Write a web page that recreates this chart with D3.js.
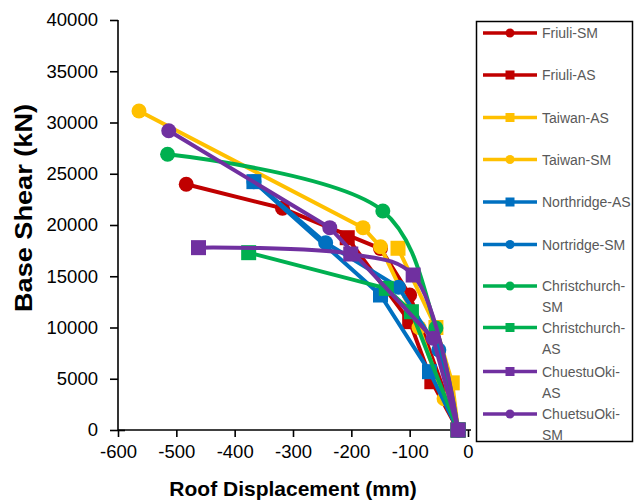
<!DOCTYPE html>
<html>
<head>
<meta charset="utf-8">
<script src="https://cdn.jsdelivr.net/npm/d3@7"></script>
<style>
  body { margin: 0; background: #fff; }
  text { font-family: "Liberation Sans", Arial, sans-serif; }
</style>
</head>
<body>
<div id="chart"></div>
<script>
// series values, [roof displacement (mm), base shear (kN)]
var friuliSM = [[-483, 23970], [-318, 21630], [-150, 17700], [-100, 13170], [-17, 0]]
var friuliAS = [[-207, 18760], [-100, 10570], [-62, 4710], [-17, 0]]
var taiwanAS = [[-120, 17730], [-55, 10000], [-27, 4600], [-17, 0]]
var taiwanSM = [[-564, 31120], [-180, 19740], [-150, 17880], [-84, 10000], [-41, 3050], [-17, 0]]
var northridgeAS = [[-367, 24230], [-150, 13170], [-66, 5690], [-17, 0]]
var nortridgeSM = [[-367, 24230], [-244, 18270], [-119, 13920], [-50, 7800], [-17, 0]]
var christchurchSM = [[-515, 26900], [-146, 21370], [-55, 9950], [-17, 0]]
var christchurchAS = [[-376, 17300], [-140, 13820], [-97, 11540], [-17, 0]]
var chuestuOkiAS = [[-462, 17790], [-201, 17170], [-94, 15120], [-17, 0]]
var chuetsuOkiSM = [[-513, 29200], [-237, 19740], [-60, 8950], [-17, 0]]

var seriesNames = ['Friuli-SM', 'Friuli-AS', 'Taiwan-AS', 'Taiwan-SM', 'Northridge-AS',
  'Nortridge-SM', 'Christchurch-SM', 'Christchurch-AS', 'ChuestuOki-AS', 'ChuetsuOki-SM']
var seriesValues = [friuliSM, friuliAS, taiwanAS, taiwanSM, northridgeAS,
  nortridgeSM, christchurchSM, christchurchAS, chuestuOkiAS, chuetsuOkiSM]
// legend text, broken the way the legend wraps it
var legendLines = [['Friuli-SM'], ['Friuli-AS'], ['Taiwan-AS'], ['Taiwan-SM'], ['Northridge-AS'],
  ['Nortridge-SM'], ['Christchurch-', 'SM'], ['Christchurch-', 'AS'], ['ChuestuOki-', 'AS'], ['ChuetsuOki-', 'SM']]

var xTicks = [-600, -500, -400, -300, -200, -100, 0]
var yTicks = [0, 5000, 10000, 15000, 20000, 25000, 30000, 35000, 40000]

// styles
var styles = {
  'Friuli-SM': { color: '#C00000', marker: 'circle' },
  'Friuli-AS': { color: '#C00000', marker: 'square' },
  'Taiwan-AS': { color: '#FFC000', marker: 'square' },
  'Taiwan-SM': { color: '#FFC000', marker: 'circle' },
  'Northridge-AS': { color: '#0070C0', marker: 'square' },
  'Nortridge-SM': { color: '#0070C0', marker: 'circle' },
  'Christchurch-SM': { color: '#00B050', marker: 'circle', smooth: true },
  'Christchurch-AS': { color: '#00B050', marker: 'square' },
  'ChuestuOki-AS': { color: '#7030A0', marker: 'square', smooth: true },
  'ChuetsuOki-SM': { color: '#7030A0', marker: 'circle' }
}

var width = 635, height = 500
var margin = { left: 118, top: 20, right: 167, bottom: 70 }

var svg = d3.select('#chart').append('svg')
  .attr('width', width)
  .attr('height', height)

var x = d3.scaleLinear().domain([-600, 0]).range([margin.left, width - margin.right])
var y = d3.scaleLinear().domain([0, 40000]).range([height - margin.bottom, margin.top])

var plain = function (d) { return String(d) }

// axes
var xAxis = d3.axisBottom(x).tickValues(xTicks).tickFormat(plain).tickSize(7).tickSizeOuter(0).tickPadding(8)
var yAxis = d3.axisLeft(y).tickValues(yTicks).tickFormat(plain).tickSize(8).tickSizeOuter(0).tickPadding(12)

var gx = svg.append('g').attr('transform', `translate(0,${y(0)})`).call(xAxis)
var gy = svg.append('g').attr('transform', `translate(${x(-600)},0)`).call(yAxis)
;[gx, gy].forEach(function (g) {
  g.selectAll('path, line').attr('stroke', '#000').attr('stroke-width', 1.6)
  g.selectAll('text').attr('font-size', 18.5).attr('fill', '#000')
    .style('font-family', '"Liberation Sans", Arial, sans-serif')
})
gx.select('.domain').attr('d', `M${x(-600)},0H${x(0) + 3}`)
gy.select('.domain').attr('d', `M0,${y(40000)}V${y(0) + 1}`)
// zero tick crosses the y axis
gy.selectAll('.tick').filter(function (d) { return d === 0 }).select('line').attr('x2', 7).attr('x1', -8)

// axis titles
svg.append('text')
  .attr('x', x(-300)).attr('y', 496)
  .attr('text-anchor', 'middle')
  .attr('font-size', 21).attr('font-weight', 'bold')
  .text('Roof Displacement (mm)')
svg.append('text')
  .attr('transform', 'translate(32,208) rotate(-90)')
  .attr('text-anchor', 'middle')
  .attr('font-size', 24).attr('font-weight', 'bold')
  .attr('textLength', 208).attr('lengthAdjust', 'spacingAndGlyphs')
  .text('Base Shear (kN)')

// series
var plot = svg.append('g')
seriesNames.forEach(function (name, i) {
  var st = styles[name]
  var line = d3.line()
    .x(function (d) { return x(d[0]) })
    .y(function (d) { return y(d[1]) })
    .curve(st.smooth ? d3.curveCatmullRom.alpha(0.5) : d3.curveLinear)
  var g = plot.append('g')
  g.append('path')
    .datum(seriesValues[i])
    .attr('d', line)
    .attr('fill', 'none')
    .attr('stroke', st.color)
    .attr('stroke-width', 4)
    .attr('stroke-linejoin', 'round')
  if (st.marker === 'circle') {
    g.selectAll('circle').data(seriesValues[i]).enter().append('circle')
      .attr('cx', function (d) { return x(d[0]) })
      .attr('cy', function (d) { return y(d[1]) })
      .attr('r', 7.5)
      .attr('fill', st.color)
  } else {
    g.selectAll('rect').data(seriesValues[i]).enter().append('rect')
      .attr('x', function (d) { return x(d[0]) - 7.5 })
      .attr('y', function (d) { return y(d[1]) - 7.5 })
      .attr('width', 15).attr('height', 15)
      .attr('fill', st.color)
  }
})

// legend
var legend = svg.append('g')
legend.append('rect')
  .attr('x', 476.5).attr('y', 21.5)
  .attr('width', 156).attr('height', 420)
  .attr('fill', '#fff').attr('stroke', '#000').attr('stroke-width', 1.5)
var rowY = [33, 75, 117.5, 159.5, 202, 244.5, 286, 327.5, 371.5, 414]
seriesNames.forEach(function (name, i) {
  var st = styles[name]
  var cy = rowY[i]
  var item = legend.append('g')
  item.append('line')
    .attr('x1', 483).attr('x2', 537).attr('y1', cy).attr('y2', cy)
    .attr('stroke', st.color).attr('stroke-width', 3.5)
  if (st.marker === 'circle') {
    item.append('circle').attr('cx', 510).attr('cy', cy).attr('r', 4.5).attr('fill', st.color)
  } else {
    item.append('rect').attr('x', 505.5).attr('y', cy - 4.5).attr('width', 9).attr('height', 9).attr('fill', st.color)
  }
  legendLines[i].forEach(function (t, k) {
    item.append('text')
      .attr('x', 542).attr('y', cy + 5 + k * 21)
      .attr('font-size', 14).attr('fill', '#595959')
      .text(t)
  })
})
</script>
</body>
</html>
